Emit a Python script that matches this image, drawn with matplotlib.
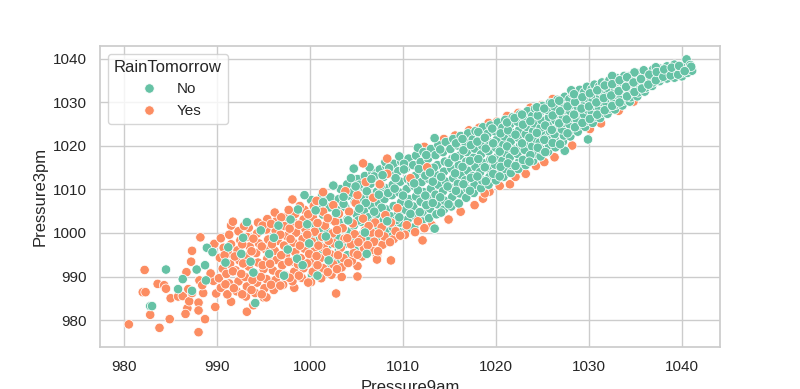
import matplotlib
matplotlib.use('Agg')
import matplotlib.pyplot as plt
import pandas as pd
import seaborn as sns

# values: (Pressure9am, Pressure3pm)
yes_back = [
    (1012.3, 1019.8), (1013.1, 1001.8), (1014.4, 1021.6), (1014.9, 1003.1), (1015.6, 1022.4), (1016.2, 1004.9),
    (1017.1, 1023.6), (1017.7, 1006.4), (1018.2, 1024.2), (1018.6, 1007.9), (1019.3, 1009.5), (1019.2, 1025.3),
    (1020.4, 1010.8), (1020.1, 1025.6), (1018.8, 1009.1), (1021.5, 1011.2), (1021.2, 1026.9), (1022.1, 1012.9),
    (1022.4, 1027.6), (1023.2, 1013.6), (1023.7, 1028.8), (1024.3, 1015.4), (1024.9, 1029.4), (1025.2, 1016.3),
    (1026.1, 1030.8), (1026.3, 1017.4), (1027.4, 1026.4), (1027.6, 1031.3), (1028.2, 1020.1), (1028.9, 1032.4),
    (1030.1, 1023.9), (1030.6, 1031.5), (1032.0, 1033.0), (1032.8, 1033.8), (1034.1, 1035.4), (1031.3, 1025.2),
    (1033.2, 1028.1), (1034.8, 1030.2), (1036.3, 1036.6), (1028.6, 1023.4), (1025.8, 1019.7), (1023.5, 1021.2),
]
no_main = [
    (1000.2, 990.4), (1000.4, 993.2), (1000.1, 996.1), (1000.5, 999.3), (1000.2, 1002.2), (1000.4, 1005.1), (1000.1, 1007.6),
    (1001.1, 992.3), (1001.3, 995.2), (1001.0, 998.4), (1001.2, 1001.1), (1001.4, 1004.2), (1001.1, 1006.8), (1001.3, 1008.7),
    (1002.0, 991.8), (1002.2, 994.3), (1002.1, 997.4), (1001.9, 1000.2), (1002.3, 1003.1), (1002.1, 1005.9), (1002.5, 1010.9), (1002.2, 1008.2),
    (1003.0, 993.5), (1003.1, 996.2), (1002.9, 999.1), (1003.2, 1002.4), (1003.0, 1005.2), (1003.1, 1007.8), (1003.3, 1010.1),
    (1004.0, 994.9), (1003.9, 997.6), (1004.1, 1000.3), (1004.0, 1003.1), (1003.8, 1005.9), (1004.1, 1008.6), (1004.0, 1011.2), (1004.7, 1014.8),
    (1004.8, 996.2), (1004.9, 998.9), (1004.7, 1001.7), (1005.0, 1004.3), (1004.8, 1007.1), (1004.9, 1009.8), (1005.1, 1012.4),
    (1005.6, 997.3), (1005.7, 999.8), (1005.5, 1002.6), (1005.8, 1005.1), (1005.6, 1007.9), (1005.7, 1010.6), (1005.9, 1013.1), (1006.1, 995.2),
    (1006.4, 998.4), (1006.5, 1000.9), (1006.3, 1003.6), (1006.6, 1006.2), (1006.4, 1008.7), (1006.5, 1011.3), (1006.7, 1013.9), (1006.4, 1015.1),
    (1007.2, 999.1), (1007.3, 1001.6), (1007.1, 1004.2), (1007.4, 1006.9), (1007.2, 1009.5), (1007.3, 1012.1), (1007.5, 1014.6),
    (1008.0, 997.9), (1008.1, 1000.4), (1007.9, 1002.9), (1008.2, 1005.4), (1008.0, 1007.8), (1008.1, 1010.3), (1007.9, 1012.9), (1008.2, 1015.4), (1008.1, 1016.3),
    (1008.8, 999.2), (1008.9, 1001.3), (1008.7, 1003.8), (1009.0, 1006.2), (1008.8, 1008.7), (1008.9, 1011.1), (1008.7, 1013.6), (1009.0, 1015.9),
    (1009.6, 1000.2), (1009.7, 1002.4), (1009.5, 1004.6), (1009.8, 1007.1), (1009.6, 1009.3), (1009.7, 1011.8), (1009.5, 1014.2), (1009.8, 1016.4), (1009.6, 1017.6),
    (1010.4, 1000.9), (1010.5, 1003.1), (1010.3, 1005.3), (1010.6, 1007.8), (1010.4, 1010.1), (1010.5, 1012.4), (1010.3, 1014.8), (1010.6, 1017.1),
    (1011.2, 1001.3), (1011.3, 1003.9), (1011.1, 1006.1), (1011.4, 1008.4), (1011.2, 1010.8), (1011.3, 1013.1), (1011.1, 1015.6), (1011.4, 1017.8), (1011.6, 1019.6),
    (1012.0, 1002.7), (1012.1, 1004.8), (1011.9, 1007.2), (1012.2, 1009.4), (1012.0, 1011.7), (1012.1, 1014.1), (1011.9, 1016.3), (1012.2, 1018.6),
    (1012.8, 1003.4), (1012.9, 1005.6), (1012.7, 1007.9), (1013.0, 1010.2), (1012.8, 1012.4), (1012.9, 1014.8), (1012.7, 1017.1), (1013.0, 1019.3), (1013.4, 1021.8), (1013.4, 1001.0),
    (1013.6, 1004.3), (1013.7, 1006.6), (1013.5, 1008.8), (1013.8, 1011.1), (1013.6, 1013.3), (1013.7, 1015.6), (1013.5, 1017.9), (1013.8, 1020.2),
    (1014.4, 1005.4), (1014.5, 1007.4), (1014.3, 1009.6), (1014.6, 1011.8), (1014.4, 1014.1), (1014.5, 1016.4), (1014.3, 1018.6), (1014.6, 1020.9),
    (1015.2, 1006.1), (1015.3, 1008.3), (1015.1, 1010.4), (1015.4, 1012.6), (1015.2, 1014.8), (1015.3, 1017.1), (1015.1, 1019.3), (1015.4, 1021.6),
    (1016.0, 1006.8), (1016.1, 1009.1), (1015.9, 1011.3), (1016.2, 1013.4), (1016.0, 1015.6), (1016.1, 1017.8), (1015.9, 1020.1), (1016.2, 1022.3),
    (1016.8, 1008.1), (1016.9, 1010.2), (1016.7, 1012.1), (1017.0, 1014.3), (1016.8, 1016.4), (1016.9, 1018.6), (1016.7, 1020.8), (1017.0, 1022.9),
    (1017.6, 1009.2), (1017.7, 1011.1), (1017.5, 1013.1), (1017.8, 1015.2), (1017.6, 1017.3), (1017.7, 1019.4), (1017.5, 1021.5), (1017.8, 1023.4),
    (1018.4, 1010.3), (1018.5, 1012.1), (1018.3, 1014.0), (1018.6, 1016.1), (1018.4, 1018.1), (1018.5, 1020.1), (1018.3, 1022.1), (1018.6, 1024.3),
    (1019.2, 1011.1), (1019.3, 1012.9), (1019.1, 1014.9), (1019.4, 1016.9), (1019.2, 1018.8), (1019.3, 1020.8), (1019.1, 1022.8), (1019.4, 1024.7),
    (1020.0, 1012.1), (1020.1, 1013.8), (1019.9, 1015.7), (1020.2, 1017.6), (1020.0, 1019.6), (1020.1, 1021.5), (1019.9, 1023.4), (1020.2, 1025.4),
    (1020.8, 1012.9), (1020.9, 1014.7), (1020.7, 1016.6), (1021.0, 1018.4), (1020.8, 1020.3), (1020.9, 1022.2), (1020.7, 1024.2), (1021.0, 1026.0),
    (1021.6, 1013.8), (1021.7, 1015.6), (1021.5, 1017.4), (1021.8, 1019.3), (1021.6, 1021.1), (1021.7, 1023.0), (1021.5, 1024.9), (1021.8, 1026.6),
    (1022.4, 1014.7), (1022.5, 1016.4), (1022.3, 1018.2), (1022.6, 1020.1), (1022.4, 1021.9), (1022.5, 1023.7), (1022.3, 1025.6), (1022.6, 1027.3),
    (1023.2, 1015.6), (1023.3, 1017.3), (1023.1, 1019.1), (1023.4, 1020.8), (1023.2, 1022.7), (1023.3, 1024.4), (1023.1, 1026.2), (1023.4, 1028.0),
    (1024.0, 1016.6), (1024.1, 1018.2), (1023.9, 1019.9), (1024.2, 1021.7), (1024.0, 1023.4), (1024.1, 1025.2), (1023.9, 1026.9), (1024.2, 1028.6),
    (1024.8, 1017.6), (1024.9, 1019.2), (1024.7, 1020.8), (1025.0, 1022.6), (1024.8, 1024.2), (1024.9, 1025.9), (1024.7, 1027.6), (1025.0, 1029.2),
    (1025.6, 1018.7), (1025.7, 1020.2), (1025.5, 1021.8), (1025.8, 1023.4), (1025.6, 1025.0), (1025.7, 1026.6), (1025.5, 1028.3), (1025.8, 1029.9),
    (1026.4, 1019.7), (1026.5, 1021.2), (1026.3, 1022.7), (1026.6, 1024.3), (1026.4, 1025.9), (1026.5, 1027.4), (1026.3, 1029.0), (1026.6, 1030.6),
    (1027.4, 1018.9), (1027.2, 1021.0), (1027.3, 1022.4), (1027.1, 1023.8), (1027.4, 1025.3), (1027.2, 1026.8), (1027.3, 1028.3), (1027.1, 1029.8), (1027.4, 1031.3),
    (1028.0, 1022.2), (1028.1, 1023.6), (1027.9, 1025.0), (1028.2, 1026.5), (1028.0, 1027.9), (1028.1, 1029.4), (1027.9, 1030.8), (1028.2, 1032.0), (1028.1, 1032.8),
    (1028.8, 1023.3), (1028.9, 1024.7), (1028.7, 1026.1), (1029.0, 1027.5), (1028.8, 1028.9), (1028.9, 1030.3), (1028.7, 1031.6), (1029.0, 1032.9),
    (1029.9, 1021.5), (1029.6, 1024.4), (1029.7, 1025.7), (1029.5, 1027.1), (1029.8, 1028.4), (1029.6, 1029.8), (1029.7, 1031.1), (1029.5, 1032.4), (1029.8, 1033.6),
    (1030.4, 1025.3), (1030.5, 1026.6), (1030.3, 1027.9), (1030.6, 1029.2), (1030.4, 1030.5), (1030.5, 1031.8), (1030.3, 1033.1), (1030.6, 1034.1),
    (1031.2, 1026.4), (1031.3, 1027.6), (1031.1, 1028.8), (1031.4, 1030.1), (1031.2, 1031.3), (1031.3, 1032.5), (1031.1, 1033.7), (1031.4, 1034.6),
    (1032.0, 1027.4), (1032.1, 1028.5), (1031.9, 1029.7), (1032.2, 1030.9), (1032.0, 1032.1), (1032.1, 1033.2), (1031.9, 1034.3), (1032.2, 1035.1),
    (1032.8, 1028.4), (1032.9, 1029.5), (1032.7, 1030.6), (1033.0, 1031.7), (1032.8, 1032.8), (1032.9, 1033.9), (1032.7, 1034.9), (1033.0, 1035.6),
    (1033.6, 1029.3), (1033.7, 1030.4), (1033.5, 1031.4), (1033.8, 1032.5), (1033.6, 1033.5), (1033.7, 1034.5), (1033.5, 1035.4), (1033.8, 1036.1),
    (1034.4, 1030.2), (1034.5, 1031.2), (1034.3, 1032.2), (1034.6, 1033.2), (1034.4, 1034.2), (1034.5, 1035.2), (1034.3, 1036.0),
    (1035.2, 1031.4), (1035.3, 1032.3), (1035.1, 1033.2), (1035.4, 1034.1), (1035.2, 1035.0), (1035.3, 1035.9), (1035.1, 1036.8),
    (1036.0, 1032.5), (1036.1, 1033.4), (1035.9, 1034.2), (1036.2, 1035.1), (1036.0, 1036.0), (1036.1, 1036.8), (1035.9, 1037.4),
    (1036.8, 1033.8), (1036.9, 1034.6), (1036.7, 1035.4), (1037.0, 1036.2), (1036.8, 1037.0), (1036.9, 1037.6),
    (1037.6, 1034.9), (1037.7, 1035.6), (1037.5, 1036.4), (1037.8, 1037.1), (1037.6, 1037.8),
    (1038.4, 1035.5), (1038.5, 1036.3), (1038.3, 1037.0), (1038.6, 1037.7), (1038.4, 1038.3),
    (1039.2, 1035.7), (1039.3, 1036.6), (1039.1, 1037.3), (1039.4, 1038.0), (1039.2, 1038.7),
    (1040.0, 1036.0), (1040.1, 1036.9), (1039.9, 1037.7), (1040.2, 1038.4), (1040.5, 1039.9),
    (1040.6, 1036.8), (1040.7, 1037.6), (1040.9, 1038.6), (1041.1, 1037.3), (1041.0, 1038.2),
    (1028.1, 1032.8), (1027.4, 1018.9), (1032.5, 1036.1), (1034.9, 1036.9), (1037.2, 1038.1),
]
# second pass over the dense band, off the columns above
no_gaps = [
    (1003.5, 1000.9), (1003.6, 1006.7), (1004.4, 1012.6), (1004.5, 1009.3), (1005.3, 1011.1), (1005.2, 1002.9), (1006.0, 1006.9), (1006.1, 1009.6),
    (1006.9, 1013.0), (1006.8, 1002.4), (1007.6, 1010.9), (1007.7, 1005.8), (1008.5, 1014.9), (1008.4, 1009.2), (1009.2, 1012.6), (1009.3, 1003.0),
    (1010.0, 1008.6), (1010.1, 1015.9), (1010.9, 1011.6), (1010.8, 1004.4), (1011.7, 1014.7), (1011.6, 1009.8), (1012.5, 1006.4), (1012.4, 1013.2), (1012.5, 1017.9),
    (1013.2, 1011.8), (1013.3, 1015.0), (1013.2, 1006.9), (1014.0, 1019.2), (1014.1, 1012.9), (1014.0, 1008.2), (1014.1, 1004.7), (1014.9, 1016.1), (1014.8, 1010.7), (1014.9, 1006.6),
    (1015.7, 1020.6), (1015.6, 1013.7), (1015.7, 1009.7), (1015.6, 1017.4), (1016.5, 1011.2), (1016.4, 1015.2), (1016.5, 1019.0), (1016.4, 1021.6), (1017.3, 1012.7), (1017.2, 1016.6),
    (1017.3, 1020.2), (1017.2, 1009.7), (1018.0, 1013.0), (1018.1, 1017.0), (1018.0, 1021.0), (1018.1, 1023.2), (1018.9, 1011.9), (1018.8, 1015.1), (1018.9, 1019.4), (1018.8, 1021.9),
    (1019.7, 1013.6), (1019.6, 1016.9), (1019.7, 1020.6), (1019.6, 1024.0), (1020.5, 1015.2), (1020.4, 1018.7), (1020.5, 1022.9), (1020.4, 1013.0), (1021.3, 1016.0), (1021.2, 1019.9),
    (1021.3, 1023.6), (1021.2, 1025.4), (1022.1, 1015.4), (1022.0, 1018.9), (1022.1, 1022.6), (1022.0, 1026.4), (1022.9, 1016.8), (1022.8, 1020.6), (1022.9, 1024.9), (1022.8, 1027.2),
    (1023.7, 1017.9), (1023.6, 1021.9), (1023.7, 1025.7), (1023.6, 1016.4), (1024.5, 1019.6), (1024.4, 1023.0), (1024.5, 1027.0), (1024.4, 1028.9), (1025.3, 1018.6), (1025.2, 1021.4),
    (1025.3, 1024.7), (1025.2, 1028.6), (1026.1, 1020.7), (1026.0, 1023.7), (1026.1, 1027.0), (1026.0, 1029.8), (1026.9, 1020.4), (1026.8, 1025.2), (1026.9, 1028.0), (1026.8, 1030.4),
    (1027.7, 1022.9), (1027.6, 1026.1), (1027.7, 1029.1), (1028.5, 1024.3), (1028.4, 1027.2), (1028.5, 1030.1), (1028.4, 1031.9), (1029.3, 1025.3), (1029.2, 1028.6), (1029.3, 1031.2),
    (1030.1, 1026.2), (1030.0, 1029.1), (1030.1, 1032.1), (1030.9, 1027.2), (1030.8, 1030.0), (1030.9, 1032.8), (1031.7, 1028.2), (1031.6, 1031.0), (1031.7, 1033.9),
    (1032.5, 1029.2), (1032.4, 1031.6), (1032.5, 1034.2), (1033.3, 1030.0), (1033.2, 1032.6), (1033.3, 1035.1), (1034.1, 1031.4), (1034.0, 1033.6), (1034.1, 1035.8),
    (1034.9, 1032.4), (1034.8, 1034.6), (1035.7, 1033.2), (1035.6, 1035.4), (1036.4, 1034.1), (1036.5, 1036.4), (1037.2, 1035.1), (1037.3, 1037.0), (1038.0, 1035.9), (1038.1, 1037.6),
    (1038.8, 1036.2), (1038.9, 1038.0), (1039.6, 1036.4), (1039.7, 1038.4), (1040.3, 1037.2),
]
yes_front = [
    (980.5, 979.0), (982.2, 991.5), (982.0, 986.4), (982.3, 986.4), (982.8, 981.2), (983.8, 978.2), (983.6, 988.3),
    (984.3, 988.0), (984.5, 987.2), (985.0, 985.0), (984.9, 980.2), (985.8, 985.4), (986.3, 985.5), (986.7, 991.0),
    (986.8, 982.7), (986.6, 981.4), (987.0, 984.3), (986.9, 987.1), (987.3, 986.2), (988.0, 984.0), (988.0, 982.2),
    (988.7, 980.2), (988.0, 977.2), (989.8, 983.0), (988.5, 986.2), (987.2, 993.4), (987.3, 995.9), (988.2, 999.0),
    (988.1, 989.1), (989.6, 989.0), (989.3, 990.7), (988.4, 988.0), (989.7, 997.5), (991.5, 1001.7), (991.7, 1002.6),
    (991.5, 984.2), (993.2, 981.9), (993.9, 983.4), (995.0, 985.2), (995.3, 985.2), (998.3, 987.4), (1002.8, 986.1),
    (1003.4, 989.9), (1005.1, 990.0), (1005.1, 992.4), (1007.2, 994.7), (1007.2, 993.9), (1008.7, 993.7), (1012.1, 998.3),
    (1005.7, 1016.0), (1008.3, 1017.1), (998.1, 1007.7), (1001.4, 1009.4),
    (989.9, 986.1), (990.4, 987.4), (990.2, 989.6), (990.6, 991.8), (990.3, 994.3), (990.7, 996.6), (990.4, 998.8),
    (991.1, 985.9), (991.3, 988.4), (991.0, 990.6), (991.4, 992.9), (991.2, 995.3), (991.5, 997.4), (991.3, 999.6),
    (992.1, 986.6), (992.3, 988.9), (992.0, 991.4), (992.4, 993.7), (992.2, 996.0), (992.5, 998.3), (992.3, 1000.4),
    (993.1, 985.4), (993.2, 987.7), (993.0, 989.9), (993.4, 992.3), (993.1, 994.6), (993.5, 996.9), (993.2, 999.1), (993.4, 1001.2),
    (994.1, 986.2), (994.3, 988.6), (994.0, 990.8), (994.4, 993.2), (994.2, 995.4), (994.5, 997.6), (994.3, 999.9), (994.4, 1002.4),
    (995.1, 987.3), (995.3, 989.4), (995.0, 991.7), (995.4, 994.1), (995.2, 996.3), (995.5, 998.5), (995.3, 1000.8), (995.4, 1003.2),
    (996.1, 986.9), (996.3, 989.2), (996.0, 991.4), (996.4, 993.8), (996.2, 995.9), (996.5, 998.2), (996.3, 1000.5), (996.4, 1002.8), (996.2, 1004.7),
    (997.1, 988.1), (997.3, 990.3), (997.0, 992.6), (997.4, 994.8), (997.2, 997.1), (997.5, 999.3), (997.3, 1001.6), (997.4, 1003.7),
    (998.1, 988.9), (998.3, 991.1), (998.0, 993.4), (998.4, 995.6), (998.2, 997.8), (998.5, 1000.1), (998.3, 1002.3), (998.4, 1004.4),
    (999.1, 989.7), (999.3, 991.9), (999.0, 994.2), (999.4, 996.4), (999.2, 998.6), (999.5, 1000.9), (999.3, 1003.1), (999.4, 1005.3),
    (1000.1, 988.7), (1000.3, 991.1), (1000.0, 993.5), (1000.4, 995.7), (1000.2, 998.0), (1000.5, 1000.3), (1000.3, 1003.6), (1000.4, 1006.2),
    (1001.2, 989.6), (1001.4, 991.9), (1001.1, 994.2), (1001.5, 996.6), (1001.3, 999.1), (1001.6, 1001.7), (1001.4, 1004.9),
    (1002.3, 990.4), (1002.5, 992.8), (1002.2, 995.1), (1002.6, 997.6), (1002.4, 999.9), (1002.7, 1002.6), (1002.5, 1006.4),
    (1003.4, 992.1), (1003.6, 994.2), (1003.3, 996.6), (1003.7, 998.7), (1003.5, 1001.1), (1003.8, 1009.6),
    (1004.5, 993.6), (1004.7, 995.4), (1004.4, 997.4), (1004.8, 999.7), (1004.6, 1002.2), (1004.9, 1006.9),
    (1005.6, 994.6), (1005.8, 996.4), (1005.5, 998.6), (1005.9, 1000.6), (1005.7, 1003.3), (1006.0, 1011.7),
    (1006.7, 996.1), (1006.9, 998.0), (1006.6, 1000.1), (1007.0, 1002.4), (1006.8, 1008.1),
    (1007.8, 997.3), (1008.0, 999.2), (1007.7, 1001.3), (1008.1, 1004.1), (1008.3, 1013.6),
    (1009.0, 998.6), (1009.2, 1000.4), (1009.4, 1005.7), (1010.2, 999.6), (1010.4, 1001.8), (1010.8, 1012.6),
    (1011.3, 1000.2), (1011.6, 1002.7), (1012.3, 1001.1), (1012.6, 1015.1),
    # gaps between the columns
    (990.9, 988.2), (990.8, 994.9), (991.8, 987.3), (991.7, 991.2), (991.9, 994.6), (992.7, 985.9), (992.6, 990.6), (992.8, 993.0), (992.7, 997.4), (992.9, 1001.6),
    (993.7, 986.9), (993.8, 989.2), (993.7, 995.8), (993.9, 998.7), (994.8, 985.9), (994.7, 989.9), (994.9, 992.6), (994.8, 996.9), (994.9, 1001.7),
    (995.8, 988.1), (995.7, 992.9), (995.9, 997.4), (995.8, 1002.1), (996.8, 987.9), (996.7, 990.6), (996.9, 994.9), (996.8, 999.6), (996.9, 1003.6),
    (997.8, 989.7), (997.7, 993.4), (997.9, 998.6), (997.8, 1001.0), (997.7, 1005.3), (998.8, 990.2), (998.7, 992.8), (998.9, 997.1), (998.8, 1001.9), (998.9, 1006.2),
    (999.8, 988.6), (999.7, 993.0), (999.9, 995.2), (999.7, 999.6), (999.8, 1004.3), (1000.8, 992.6), (1000.7, 994.7), (1000.9, 997.1), (1000.8, 1002.3), (1000.7, 1007.4),
    (1001.9, 991.0), (1001.8, 995.6), (1002.0, 998.2), (1001.9, 1003.4), (1002.9, 991.7), (1003.0, 994.9), (1002.9, 1000.7), (1003.1, 1004.4), (1004.1, 993.1), (1004.0, 998.8), (1004.2, 1004.9),
    (1005.1, 995.0), (1005.2, 997.9), (1005.1, 1008.7), (1006.2, 997.2), (1006.3, 1001.6), (1007.3, 995.8), (1007.4, 999.9), (1007.5, 1011.2), (1008.6, 997.9), (1008.7, 1002.4), (1009.7, 999.4),
]
no_front = [
    (982.8, 983.2), (984.5, 991.6), (985.8, 987.1), (986.3, 989.4), (987.3, 986.7), (987.8, 991.6), (988.7, 992.6),
    (988.9, 996.6), (988.8, 989.1), (989.5, 995.6), (993.2, 1002.5), (994.1, 983.9), (983.0, 983.2),
    (990.9, 993.2), (991.2, 996.7), (992.6, 995.2), (992.8, 998.9), (993.6, 993.4), (993.9, 990.9), (994.7, 1000.6),
    (995.6, 995.2), (996.1, 998.9), (996.6, 1001.7), (997.2, 990.2), (997.6, 996.2), (997.9, 1003.1), (998.6, 994.1),
    (998.7, 1005.4), (999.2, 992.6), (999.7, 1002.0), (999.4, 1008.7), (999.9, 997.6), (1000.6, 1005.2), (1000.8, 990.2),
    (1001.4, 1007.1), (1001.7, 999.2), (1002.0, 993.7), (1002.5, 1010.9), (1002.8, 1004.6), (1003.1, 997.3), (1003.6, 1008.3),
    (1004.1, 1002.9), (1004.7, 1014.8), (1004.9, 1010.7), (1005.3, 1005.6), (1005.9, 1000.1), (1006.1, 995.2), (1006.6, 1012.4),
    (1006.9, 1004.9), (1007.4, 1008.8), (1007.8, 1013.3), (1008.3, 1002.7), (1009.1, 1010.2), (1009.6, 1003.6), (1010.1, 1014.6),
    (1010.6, 1006.6), (1011.2, 1011.4), (1011.8, 1004.8), (1012.4, 1008.6), (1012.9, 1013.9), (1013.4, 1001.0), (1013.4, 1021.8),
]

frames = []
for pts, label in [(yes_back, 'Yes'), (no_main, 'No'), (no_gaps, 'No'), (yes_front, 'Yes'), (no_front, 'No')]:
    frames.append(pd.DataFrame({'Pressure9am': [p[0] for p in pts],
                                'Pressure3pm': [p[1] for p in pts],
                                'RainTomorrow': label}))
df = pd.concat(frames, ignore_index=True)

sns.set_theme(style='whitegrid')
plt.rcParams['font.family'] = ['Liberation Sans', 'DejaVu Sans']

fig = plt.figure(figsize=(8, 3.89), dpi=100)
ax = fig.add_axes([0.125, 0.108, 0.775, 0.774])
sns.scatterplot(data=df, x='Pressure9am', y='Pressure3pm', hue='RainTomorrow',
                hue_order=['No', 'Yes'], palette='Set2', s=46, ax=ax)
ax.set_xlim(977.4, 1044.1)
ax.set_ylim(973.8, 1043)
ax.set_xticks(range(980, 1041, 10))
ax.set_yticks(range(980, 1041, 10))
plt.savefig('out.png', dpi=100)
